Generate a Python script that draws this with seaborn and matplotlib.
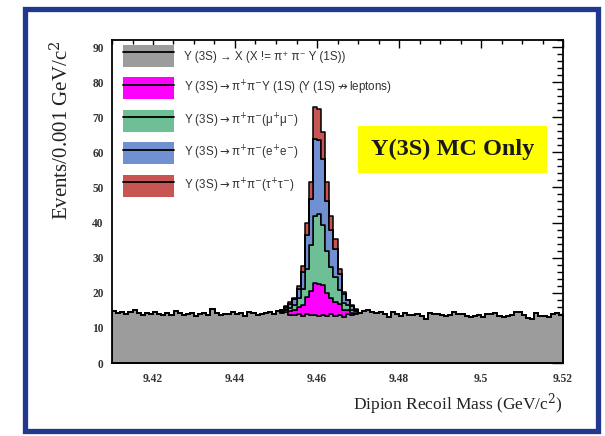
import numpy as np
import pandas as pd
import matplotlib
matplotlib.use("Agg")
import matplotlib.pyplot as plt
from matplotlib.patches import Patch, Rectangle
from matplotlib.lines import Line2D
from matplotlib.ticker import MultipleLocator, FixedLocator, FuncFormatter
import seaborn as sns

# 0.001 GeV/c^2 bins from 9.410 to 9.520
bin_edges = np.round(np.linspace(9.410, 9.520, 111), 4)

# Y(3S) -> X, non-signal background (one value per bin)
background = [
    14.8, 14.3, 14.6, 14.0, 14.4, 15.0, 14.2, 13.8, 14.1, 13.9,
    14.6, 14.0, 13.6, 14.1, 13.7, 14.9, 14.2, 13.6, 13.9, 14.1,
    13.5, 14.0, 14.3, 13.8, 15.3, 14.1, 13.6, 14.0, 13.9, 14.4,
    14.0, 14.1, 13.3, 14.6, 14.2, 13.7, 14.0, 14.3, 14.4, 14.0,
    14.8, 14.2, 14.5, 13.8, 13.6, 14.0, 13.5, 13.9, 13.6, 13.8,
    13.4, 13.7, 13.5, 13.9, 13.4, 13.8, 13.2, 14.0, 13.7, 13.9,
    14.3, 14.7, 15.0, 14.5, 14.1, 14.6, 13.9, 13.2, 14.4, 14.0,
    13.5, 14.1, 13.6, 13.8, 14.0, 13.5, 12.6, 14.3, 13.9, 14.0,
    13.6, 13.4, 13.8, 14.5, 14.0, 13.9, 13.4, 13.1, 13.5, 13.6,
    13.2, 14.0, 13.9, 14.2, 13.5, 13.0, 13.4, 13.6, 14.5, 14.4,
    13.8, 12.9, 12.6, 14.1, 13.5, 13.3, 13.0, 13.9, 14.3, 13.8,
]

# Signal channels, bins 9.451 .. 9.469
signal_first_bin = 9.451
ups1s_nonlep = [0.3, 0.5, 1, 1.5, 2, 3, 5, 7, 9, 9, 8.5, 6.5, 4.5, 4, 3, 2, 1, 0.5, 0.3]
mumu = [0.3, 0.5, 1, 1.5, 2.5, 4.5, 8, 13, 19, 20, 17, 12, 9, 7, 4, 2, 1.5, 1, 0.5]
ee = [0.3, 0.5, 1, 1.5, 2.5, 5, 9.5, 13, 22, 21, 19, 14, 10.5, 8, 4.5, 2.5, 1.5, 1, 0.5]
tautau = [0, 0.3, 0.5, 0.5, 1, 1.5, 3.5, 5, 9, 9, 7.5, 5.5, 4, 3, 1.5, 0.5, 0, 0.3, 0.3]

labels = [
    "Υ (3S) → X (X != π⁺ π⁻ Υ (1S))",
    r"Υ (3S)$\rightarrow$π$^{+}$π$^{-}$Υ (1S) (Υ (1S)$\nrightarrow$leptons)",
    r"Υ (3S)$\rightarrow$π$^{+}$π$^{-}$(μ$^{+}$μ$^{-}$)",
    r"Υ (3S)$\rightarrow$π$^{+}$π$^{-}$(e$^{+}$e$^{-}$)",
    r"Υ (3S)$\rightarrow$π$^{+}$π$^{-}$(τ$^{+}$τ$^{-}$)",
]
colors = ["#9c9c9c", "#ff00ff", "#6fbf96", "#7190d2", "#c85454"]

centers = (bin_edges[:-1] + bin_edges[1:]) / 2
start = int(round((signal_first_bin - bin_edges[0]) / 0.001))


def full(values):
    out = np.zeros(len(centers))
    out[start:start + len(values)] = values
    return out


series = [np.asarray(background, float), full(ups1s_nonlep), full(mumu),
          full(ee), full(tautau)]
df = pd.concat(
    [pd.DataFrame({"mass": centers, "events": s, "component": lab})
     for s, lab in zip(series, labels)],
    ignore_index=True,
)

sns.set_style("white")
plt.rcParams["mathtext.fontset"] = "dejavusans"
serif = ["Liberation Serif", "DejaVu Serif"]
sans = ["Liberation Sans", "DejaVu Sans"]

fig = plt.figure(figsize=(6.05, 4.36), dpi=100)
ax = fig.add_axes([112 / 605, 1 - 363 / 436, 451 / 605, 323 / 436])

# stack: last hue level ends up at the bottom
order = labels[::-1]
sns.histplot(
    data=df, x="mass", weights="events", hue="component",
    hue_order=order, palette=dict(zip(labels, colors)),
    multiple="stack", bins=[float(b) for b in bin_edges], element="step",
    fill=True, alpha=1, edgecolor="black", linewidth=1.1, legend=False, ax=ax,
)

ax.set_xlim(9.410, 9.520)
ax.set_ylim(0, 92)

# ROOT-like ticks: inside, on all four sides
ax.xaxis.set_major_locator(FixedLocator([9.42, 9.44, 9.46, 9.48, 9.50, 9.52]))
ax.xaxis.set_minor_locator(MultipleLocator(0.005))
ax.yaxis.set_major_locator(MultipleLocator(10))
ax.yaxis.set_minor_locator(MultipleLocator(2))
ax.xaxis.set_major_formatter(FuncFormatter(lambda v, p: f"{v:g}"))
ax.tick_params(which="both", direction="in", top=True, right=True,
               width=1.0, color="black")
ax.tick_params(which="major", axis="x", length=6, pad=7)
ax.tick_params(which="minor", axis="x", length=3)
ax.tick_params(which="major", axis="y", length=8, pad=6)
ax.tick_params(which="minor", axis="y", length=4)
for lab in ax.get_xticklabels() + ax.get_yticklabels():
    lab.set_fontfamily(serif)
    lab.set_fontweight("bold")
    lab.set_fontsize(8.3)
    lab.set_color("#333333")
for sp in ax.spines.values():
    sp.set_linewidth(1.3)
    sp.set_color("black")

ax.set_xlabel("")
ax.set_ylabel("")
fig.text(563 / 605, 1 - 404 / 436, "Dipion Recoil Mass (GeV/c$^2$)",
         ha="right", va="center", fontsize=12.5, family=serif, color="#222222",
         math_fontfamily="dejavuserif")
fig.text(62 / 605, 1 - 130 / 436, "Events/0.001 GeV/c$^2$",
         ha="center", va="center", rotation=90, fontsize=15,
         family=serif, color="#222222", math_fontfamily="dejavuserif")

# legend: filled box crossed by a black line
handles = [(Patch(facecolor=c, edgecolor="none"),
            Line2D([], [], color="black", lw=1.3)) for c in colors]
leg = ax.legend(
    handles, labels, loc="upper left", bbox_to_anchor=(11 / 451, 1 - 5 / 323),
    frameon=False, borderpad=0, borderaxespad=0,
    handlelength=4.4, handleheight=2.52, labelspacing=0.9, handletextpad=0.85,
    prop={"family": sans, "size": 8.4},
)
for t in leg.get_texts():
    t.set_color("#333333")

# yellow caption box
ax.add_patch(Rectangle((0.545, 0.588), 0.4195, 0.146, transform=ax.transAxes,
                       facecolor="#ffff00", edgecolor="none", zorder=5))
ax.text(0.755, 0.661, "Y(3S) MC Only", transform=ax.transAxes,
        ha="center", va="center", fontsize=17.5, fontweight="bold",
        family=serif, color="#1a1a1a", zorder=6)

# dark blue frame around the whole figure
fig.patches.append(Rectangle((24.5 / 605, 1 - 430.5 / 436), 573 / 605, 421 / 436,
                             transform=fig.transFigure, fill=False,
                             edgecolor="#22388e", linewidth=3.8))

fig.savefig("out.png", dpi=100)
